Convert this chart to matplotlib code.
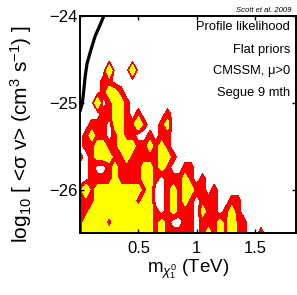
import numpy as np
import matplotlib
matplotlib.use("Agg")
import matplotlib.pyplot as plt

plt.rcParams['font.family'] = ['Liberation Sans', 'DejaVu Sans']
plt.rcParams['mathtext.fontset'] = 'custom'
plt.rcParams['mathtext.rm'] = 'Liberation Sans'
plt.rcParams['mathtext.it'] = 'Liberation Sans:italic'
plt.rcParams['mathtext.bf'] = 'Liberation Sans:bold'

# Profile-likelihood map (0 = outside, 1 = 2-sigma, 2/3 = 1-sigma)
# rows listed from top (log10 <sigma v> = -24) to bottom (-26.5); columns from m = 0 TeV
like_rows = [
    "",
    "",
    "",
    "",
    "",
    "0000030003",
    "000011",
    "00001221",
    "000301221",
    "0000112210100001",
    "0011102211310012",
    "0121101211001011",
    "0112211222112121",
    "10122211211111221",
    "00100121111221210011",
    "0011112111122101112101",
    "131222222221200121221101",
    "1112222222122001212101110011",
    "1122222222222101211102110121",
    "12222122222221210011011121311",
    "12222222222221211111012121311001",
]
n_cols = 38
mass_min, mass_max = 0.0, 1.85
sv_min, sv_max = -26.5, -24.0

# Segue 9-month exclusion curve
line_x = [0.0, 0.02, 0.03, 0.044, 0.06, 0.087, 0.13, 0.173, 0.21]
line_y = [-25.1, -25.0, -24.89, -24.70, -24.55, -24.42, -24.23, -24.10, -23.98]

xtick_vals = [0.5, 1.0, 1.5]
xtick_labels = ["0.5", "1", "1.5"]
ytick_vals = [-26, -25, -24]
ytick_labels = ["\u221226", "\u221225", "\u221224"]

notes = ["Profile likelihood", "Flat priors", "CMSSM, \u03bc>0", "Segue 9 mth"]

Z = np.array([[int(c) for c in r.ljust(n_cols, '0')] for r in like_rows[::-1]], dtype=float)
xs = np.linspace(mass_min, mass_max, n_cols)
ys = np.linspace(sv_min, sv_max, len(like_rows))

fig = plt.figure(figsize=(2.97, 2.95), dpi=100)
ax = fig.add_axes([80/297, 1-233/295, 216/297, 217/295])

ax.contourf(xs, ys, Z, levels=[0.5, 1.5, 10], colors=['#ff0000', '#ffff00'])
ax.plot(line_x, line_y, color='k', lw=2.3, solid_capstyle='butt', zorder=5)

ax.set_xlim(mass_min, mass_max)
ax.set_ylim(sv_min, sv_max)
ax.set_xticks(xtick_vals)
ax.set_xticklabels(xtick_labels)
ax.set_yticks(ytick_vals)
ax.set_yticklabels(ytick_labels)
ax.tick_params(direction='in', length=3, width=1, top=True, right=True,
               labelsize=12, pad=2)
ax.tick_params(axis='x', pad=6)
for s in ax.spines.values():
    s.set_linewidth(1.4)

ax.set_xlabel(r'm$_{\chi^0_1}$ (TeV)', fontsize=13.5, labelpad=1)
ax.set_ylabel('log$_{10}$ [ <\u03c3 v> (cm$^3$ s$^{-1}$) ]', fontsize=15)
ax.yaxis.set_label_coords(-0.215, 0.455)

ypos = [0.949, 0.843, 0.747, 0.645]
for t, yy in zip(notes, ypos):
    ax.text(0.972, yy, t, transform=ax.transAxes, ha='right', va='center', fontsize=9.3)

fig.text(0.98, 1-11/295, "Scott et al. 2009", ha='right', va='center',
         fontsize=5.5, style='italic')

fig.savefig("out.png", dpi=100)
